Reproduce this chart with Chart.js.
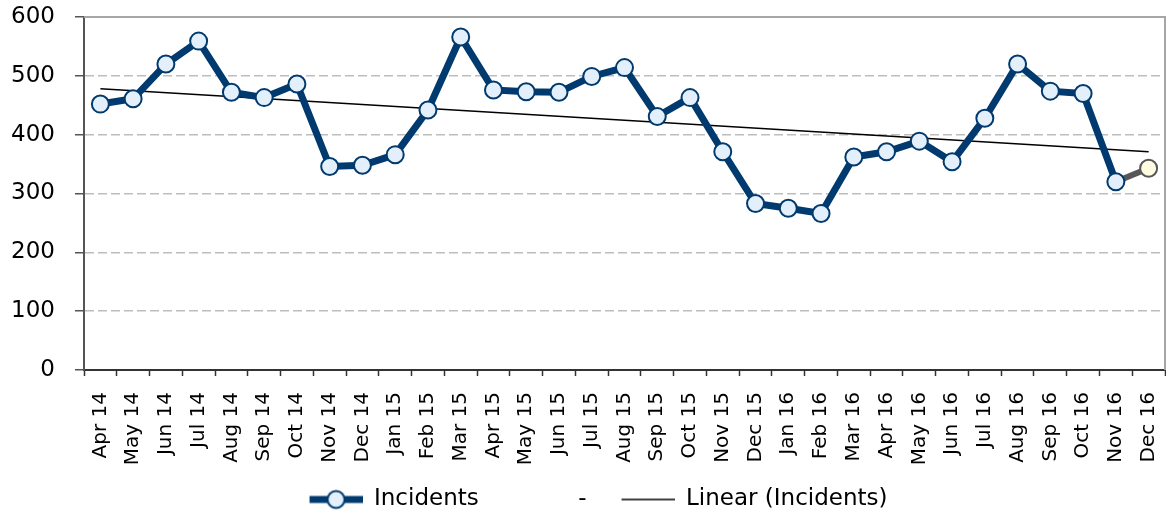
<!DOCTYPE html>
<html lang="en">
<head>
  <meta charset="UTF-8">
  <title>Incidents</title>
  <script src="https://cdn.jsdelivr.net/npm/chart.js"></script>
  <style>
    body { margin: 0; background: #ffffff; }
    #wrap { width: 1166px; height: 517px; position: relative; }
  </style>
</head>
<body>
  <div id="wrap"><canvas id="incidentsChart"></canvas></div>

  <script>
    // Monthly data
    var months = ['Apr 14', 'May 14', 'Jun 14', 'Jul 14', 'Aug 14', 'Sep 14', 'Oct 14', 'Nov 14', 'Dec 14',
      'Jan 15', 'Feb 15', 'Mar 15', 'Apr 15', 'May 15', 'Jun 15', 'Jul 15', 'Aug 15', 'Sep 15', 'Oct 15', 'Nov 15', 'Dec 15',
      'Jan 16', 'Feb 16', 'Mar 16', 'Apr 16', 'May 16', 'Jun 16', 'Jul 16', 'Aug 16', 'Sep 16', 'Oct 16', 'Nov 16', 'Dec 16'];
    var incidents = [452, 461, 520, 559, 472, 463, 486, 346, 348,
      366, 442, 566, 476, 473, 472, 499, 514, 431, 463, 371, 283,
      275, 266, 362, 371, 389, 354, 428, 520, 474, 470, 320, null];
    // latest month, drawn as its own grey segment
    var latest = [null, null, null, null, null, null, null, null, null,
      null, null, null, null, null, null, null, null, null, null, null, null,
      null, null, null, null, null, null, null, null, null, null, 320, 343];
    // linear trend end points (first and last month)
    var trendStart = 478;
    var trendEnd = 371;
    var yTicks = [0, 100, 200, 300, 400, 500, 600];

    var navy = '#003a6e';
    var lightBlue = '#e4effc';
    var grey = '#575757';

    var trend = months.map(function (m, i) {
      if (i === 0) return trendStart;
      if (i === months.length - 1) return trendEnd;
      return null;
    });

    // small legend icons, with blank space on the left as item gap
    function icon(draw) {
      var c = document.createElement('canvas');
      c.width = 77; c.height = 22;
      var g = c.getContext('2d');
      g.translate(24, 0);
      draw(g);
      return c;
    }
    var incidentsIcon = icon(function (g) {
      g.strokeStyle = navy; g.lineWidth = 7;
      g.beginPath(); g.moveTo(0, 11); g.lineTo(53, 11); g.stroke();
      g.beginPath(); g.arc(26.5, 11, 8.5, 0, Math.PI * 2);
      g.fillStyle = lightBlue; g.fill();
      g.lineWidth = 2; g.stroke();
    });
    var blankIcon = icon(function () {});
    var trendIcon = icon(function (g) {
      g.strokeStyle = '#000'; g.lineWidth = 1.5;
      g.beginPath(); g.moveTo(0, 11); g.lineTo(53, 11); g.stroke();
    });
    var legendIcons = [incidentsIcon, blankIcon, trendIcon];

    // frame on top and right of the plot area
    var frame = {
      id: 'frame',
      beforeDatasetsDraw: function (chart) {
        var a = chart.chartArea, g = chart.ctx;
        g.save();
        g.strokeStyle = '#a6a6a6';
        g.lineWidth = 2;
        g.beginPath();
        g.moveTo(a.left, a.top);
        g.lineTo(a.right, a.top);
        g.lineTo(a.right, a.bottom);
        g.stroke();
        g.restore();
      }
    };

    var ctx = document.getElementById('incidentsChart').getContext('2d');
    var chart = new Chart(ctx, {
      type: 'line',
      data: {
        labels: months,
        datasets: [{
          label: 'Incidents',
          data: incidents,
          borderColor: navy,
          borderWidth: 7,
          pointRadius: 8.5,
          pointBorderWidth: 2,
          pointBackgroundColor: lightBlue,
          pointBorderColor: navy,
          tension: 0
        }, {
          label: '-',
          data: latest,
          borderColor: grey,
          borderWidth: 6,
          pointRadius: latest.map(function (v, i) { return i === latest.length - 1 ? 8.5 : 0; }),
          pointBorderWidth: 2,
          pointBackgroundColor: '#fffce2',
          pointBorderColor: grey,
          tension: 0
        }, {
          label: 'Linear (Incidents)',
          data: trend,
          borderColor: '#000000',
          borderWidth: 1.5,
          pointRadius: 0,
          spanGaps: true,
          tension: 0
        }]
      },
      options: {
        responsive: true,
        maintainAspectRatio: false,
        animation: false,
        layout: { autoPadding: false, padding: { left: 8, right: 1, top: 17, bottom: -4 } },
        plugins: {
          tooltip: { enabled: false },
          legend: {
            position: 'bottom',
            labels: {
              color: '#000',
              font: { family: 'DejaVu Sans', size: 23 },
              usePointStyle: true,
              pointStyleWidth: 77,
              padding: 11,
              generateLabels: function (chart) {
                return chart.data.datasets.map(function (ds, i) {
                  return {
                    text: ds.label,
                    pointStyle: legendIcons[i],
                    fillStyle: 'transparent',
                    strokeStyle: 'transparent',
                    lineWidth: 0,
                    fontColor: '#000',
                    datasetIndex: i,
                    hidden: false
                  };
                });
              }
            }
          }
        },
        scales: {
          x: {
            offset: true,
            afterFit: function (scale) {
              scale.height = 107;
              scale.paddingLeft = 0;
              scale.paddingRight = 0;
            },
            border: { color: '#333', width: 2 },
            grid: { offset: true, drawOnChartArea: false, tickLength: 6, tickColor: '#333', tickWidth: 1.5 },
            ticks: {
              color: '#000',
              font: { family: 'DejaVu Sans', size: 20 },
              minRotation: 90,
              maxRotation: 90,
              autoSkip: false,
              padding: 16
            }
          },
          y: {
            min: 0,
            max: 600,
            afterFit: function (scale) {
              scale.width = 76;
              scale.paddingTop = 0;
              scale.paddingBottom = 0;
            },
            afterBuildTicks: function (scale) {
              scale.ticks = yTicks.map(function (v) { return { value: v }; });
            },
            border: { color: '#555', width: 2, dash: [9, 4] },
            grid: {
              color: function (c) {
                return (c.tick && (c.tick.value === 0 || c.tick.value === 600)) ? 'rgba(0,0,0,0)' : '#bdbdbd';
              },
              lineWidth: 1.5,
              tickLength: 9,
              tickColor: '#555',
              tickBorderDash: [],
              tickWidth: 1.5
            },
            ticks: {
              color: '#000',
              font: { family: 'DejaVu Sans', size: 23 },
              padding: 20
            }
          }
        }
      },
      plugins: [frame]
    });
  </script>
</body>
</html>
